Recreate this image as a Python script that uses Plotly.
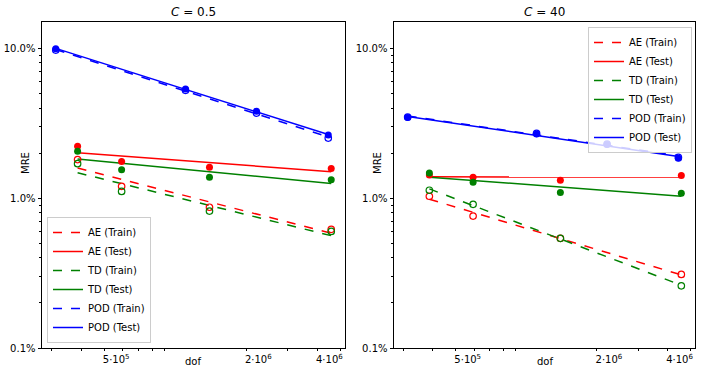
import numpy as np
import plotly.graph_objects as go

# degrees of freedom (x positions)
dof_pod = [3.12e5, 1.106e6, 2.21e6, 4.45e6]
dof_net = [3.86e5, 5.93e5, 1.397e6, 4.58e6]

# C = 0.5
left_ae_train = [0.0181, 0.0120, 0.0087, 0.0062]
left_ae_test = [0.0222, 0.0176, 0.0161, 0.0158]
left_td_train = [0.0170, 0.0111, 0.0082, 0.0060]
left_td_test = [0.0206, 0.0155, 0.0138, 0.0133]
left_pod_train = [0.0974, 0.0525, 0.0370, 0.0252]
left_pod_test = [0.0995, 0.0535, 0.0380, 0.0264]

# C = 40
right_ae_train = [0.0103, 0.0076, 0.0054, 0.0031]
right_ae_test = [0.0143, 0.0138, 0.0132, 0.0142]
right_td_train = [0.0113, 0.0091, 0.0054, 0.0026]
right_td_test = [0.0147, 0.0128, 0.0109, 0.0108]
right_pod_train = [0.0348, 0.0271, 0.0230, 0.0187]
right_pod_test = [0.0345, 0.0268, 0.0228, 0.0185]

x_tickvals = [3e5, 4e5, 5e5, 6e5, 7e5, 8e5, 9e5, 2e6, 3e6, 4e6, 5e6]
x_ticktext = ["", "", "5·10<sup>5</sup>", "", "", "", "", "2·10<sup>6</sup>", "", "4·10<sup>6</sup>", ""]
y_tickvals = [0.001, 0.01, 0.1]
y_ticktext = ["0.1%", "1.0%", "10.0%"]
y_minor = [m * 10.0 ** e for e in (-3, -2, -1) for m in range(2, 10) if m * 10.0 ** e < 0.15]

FONT = "DejaVu Sans"
RED, GREEN, BLUE = "#ff0000", "#008000", "#0000ff"


def fit_line(x, y):
    lx, ly = np.log10(x), np.log10(y)
    k, b = np.polyfit(lx, ly, 1)
    xs = np.array([min(x), max(x)])
    return xs, 10 ** (k * np.log10(xs) + b)


fig = go.Figure()

panels = [
    ("x", "y", "legend", [
        ("AE", RED, left_ae_train, left_ae_test, dof_net),
        ("TD", GREEN, left_td_train, left_td_test, dof_net),
        ("POD", BLUE, left_pod_train, left_pod_test, dof_pod),
    ]),
    ("x2", "y2", "legend2", [
        ("AE", RED, right_ae_train, right_ae_test, dof_net),
        ("TD", GREEN, right_td_train, right_td_test, dof_net),
        ("POD", BLUE, right_pod_train, right_pod_test, dof_pod),
    ]),
]

for xa, ya, leg, series in panels:
    for name, color, train, test, xs in series:
        fx, fy = fit_line(xs, train)
        fig.add_trace(go.Scatter(x=fx, y=fy, mode="lines", name=f"{name} (Train)",
                                 line=dict(color=color, width=1.5, dash="dash"),
                                 xaxis=xa, yaxis=ya, legend=leg))
        fx, fy = fit_line(xs, test)
        fig.add_trace(go.Scatter(x=fx, y=fy, mode="lines", name=f"{name} (Test)",
                                 line=dict(color=color, width=1.5),
                                 xaxis=xa, yaxis=ya, legend=leg))
    for name, color, train, test, xs in series:
        fig.add_trace(go.Scatter(x=xs, y=train, mode="markers", showlegend=False,
                                 marker=dict(symbol="circle-open", size=6.5, color=color,
                                             line=dict(width=1.2, color=color)),
                                 xaxis=xa, yaxis=ya))
        fig.add_trace(go.Scatter(x=xs, y=test, mode="markers", showlegend=False,
                                 marker=dict(symbol="circle", size=7, color=color),
                                 xaxis=xa, yaxis=ya))

lo = np.log10(min(dof_pod + dof_net))
hi = np.log10(max(dof_pod + dof_net))
pad = 0.05 * (hi - lo)
x_range = [lo - pad, hi + pad]
y_range = [np.log10(0.001), np.log10(0.15)]

xaxis_style = dict(
    type="log", range=x_range, tickmode="array", tickvals=x_tickvals, ticktext=x_ticktext,
    ticks="outside", ticklen=2, tickcolor="black", ticklabelshift=12, automargin=False,
    showline=True, linecolor="black", linewidth=1, mirror=True,
    showgrid=False, zeroline=False, tickfont=dict(size=10, color="black"),
)
yaxis_style = dict(
    type="log", range=y_range, tickmode="array", tickvals=y_tickvals, ticktext=y_ticktext,
    ticks="outside", ticklen=3.5, tickcolor="black", automargin=False,
    minor=dict(tickmode="array", tickvals=y_minor, ticks="outside", ticklen=2, tickcolor="black", showgrid=False),
    showline=True, linecolor="black", linewidth=1, mirror=True,
    showgrid=False, zeroline=False, tickfont=dict(size=10, color="black"),
)

legend_style = dict(
    bgcolor="rgba(255,255,255,0.8)", bordercolor="#cccccc", borderwidth=1,
    font=dict(size=10, color="black", family=FONT), tracegroupgap=0, itemwidth=30,
)


def label(text, x, y, size=10, angle=0):
    return dict(text=text, x=x / 704, y=1 - y / 376, xref="paper", yref="paper",
                xanchor="center", yanchor="middle", showarrow=False,
                textangle=angle, font=dict(size=size))


fig.update_layout(
    width=704, height=376,
    margin=dict(l=0, r=0, t=0, b=0, autoexpand=False),
    paper_bgcolor="white", plot_bgcolor="white",
    font=dict(family=FONT, color="black"),
    hovermode=False,
    xaxis=dict(domain=[42 / 704, 345 / 704], anchor="y", **xaxis_style),
    yaxis=dict(domain=[28 / 376, 354 / 376], anchor="x", **yaxis_style),
    xaxis2=dict(domain=[394 / 704, 695 / 704], anchor="y2", **xaxis_style),
    yaxis2=dict(domain=[28 / 376, 354 / 376], anchor="x2", **yaxis_style),
    legend=dict(x=47 / 704, y=33 / 376, xanchor="left", yanchor="bottom", **legend_style),
    legend2=dict(x=692 / 704, y=349 / 376, xanchor="right", yanchor="top", **legend_style),
    showlegend=True,
    annotations=[
        label("<i>C</i> = 0.5", 193.5, 12, size=12),
        label("<i>C</i> = 40", 544.5, 12, size=12),
        label("MRE", 25, 163, angle=-90),
        label("MRE", 377, 163, angle=-90),
        label("dof", 193, 361),
        label("dof", 545, 361),
    ],
)

# drop the default page margin so the figure sits at the window's top-left corner
fig.write_html("out.html", config={"displayModeBar": False},
               post_script="document.body.style.margin = '0';")
